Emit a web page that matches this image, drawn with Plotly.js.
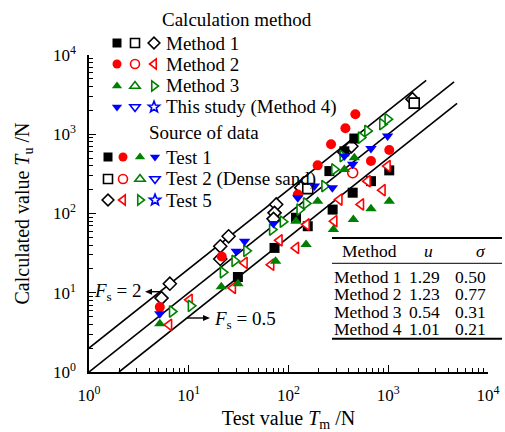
<!DOCTYPE html>
<html><head><meta charset="utf-8">
<script src="https://cdn.plot.ly/plotly-3.0.1.min.js"></script>
<style>html,body{margin:0;padding:0;background:#fff}#chart{width:505px;height:432px}</style>
</head><body><div id="chart"></div>
<script>
// ---------- data ----------
// Test 1 (filled markers)
const t1m1X = [31.1, 72.4, 119, 156, 277, 257, 440, 457, 671, 1023, 363];
const t1m1Y = [15.8, 36.8, 88.3, 69.1, 112, 343, 183, 883, 256, 350, 609];
const t1m2X = [5.13, 21.4, 124, 196, 267, 372, 468, 671, 1023];
const t1m2Y = [6.59, 28.6, 174, 405, 747, 1191, 1791, 459, 632];
const t1m3X = [5.13, 21.2, 31.1, 74.3, 119, 150, 196, 282, 447, 671, 1023, 457, 363];
const t1m3Y = [4.05, 11.9, 13.0, 24.9, 80, 40.5, 143, 62.7, 84, 115, 143, 507, 360];
const t1m4X = [5.13, 29.9, 36.3, 70.8, 124, 182, 275, 440, 671, 985, 363];
const t1m4Y = [5.42, 33.3, 44.6, 74.7, 158, 222, 212, 417, 659, 951, 531];
// Test 2 (Dense sand, open markers)
const t2m1X = [156, 1820];
const t2m1Y = [206, 2467];
const t2m2X = [440];
const t2m2Y = [327];
const t2m3X = [];
const t2m3Y = [];
const t2m4X = [];
const t2m4Y = [];
// Test 5
const t5m1X = [5.33, 6.46, 20.7, 20.7, 25.1, 75.3, 72.4, 70.8, 134, 427, 363, 1750];
const t5m1Y = [8.57, 13.0, 38.6, 26.7, 51.6, 130, 102, 85.7, 212, 705, 592, 2773];
const t5m2X = [6.35, 10.2, 27.7, 36.3, 67.1, 81.3, 119, 152, 288, 324, 533, 621, 877, 985];
const t5m2Y = [3.94, 8.15, 11.5, 23.8, 22.6, 45.9, 36.8, 72.6, 80, 150, 130, 256, 197, 397];
const t5m3X = [6.8, 10.5, 22.0, 28.8, 37.8, 68.5, 87.7, 129, 150, 229, 288, 349, 533, 617, 871, 985];
const t5m3Y = [5.80, 6.84, 18.1, 25.2, 33.8, 62.7, 78.8, 112, 134, 222, 360, 531, 908, 1102, 1339, 1549];
const t5m4X = [];
const t5m4Y = [];

// Safety-factor reference lines  Tu = Fs * Tm
const fsFactors = [2, 1, 0.5];
const fsStartX = [1, 1, 2];
const fsEndX = [2400, 4570, 4900];

// Legend / table text
const methodLabels = ['Method 1', 'Method 2', 'Method 3', 'This study (Method 4)'];
const testLabels = ['Test 1', 'Test 2 (Dense sand)', 'Test 5'];
const tableMethods = ['Method 1', 'Method 2', 'Method 3', 'Method 4'];
const tableU = ['1.29', '1.23', '0.54', '1.01'];
const tableSigma = ['0.50', '0.77', '0.31', '0.21'];
const tickVals = [1, 10, 100, 1000, 10000];
const tickText = ['10<sup>0</sup>', '10<sup>1</sup>', '10<sup>2</sup>', '10<sup>3</sup>', '10<sup>4</sup>'];

// ---------- styles ----------
const RED = '#ff0000', GREEN = '#008000', BLUE = '#0000ff', BLACK = '#000000';
const methodColors = [BLACK, RED, GREEN, BLUE];
const symbols = [
  ['square', 'circle', 'triangle-up', 'triangle-down'],     // Test 1
  ['square', 'circle', 'triangle-up', 'triangle-down'],     // Test 2
  ['diamond', 'triangle-left', 'triangle-right', 'star']    // Test 5
];
const filled = [true, false, false];
const seriesX = [[t1m1X, t1m2X, t1m3X, t1m4X], [t2m1X, t2m2X, t2m3X, t2m4X], [t5m1X, t5m2X, t5m3X, t5m4X]];
const seriesY = [[t1m1Y, t1m2Y, t1m3Y, t1m4Y], [t2m1Y, t2m2Y, t2m3Y, t2m4Y], [t5m1Y, t5m2Y, t5m3Y, t5m4Y]];
const OPEN_W = 1.6;

function markerStyle(t, m, size) {
  const c = methodColors[m];
  return {
    symbol: symbols[t][m], size: size,
    color: filled[t] ? c : '#ffffff',
    line: {color: c, width: filled[t] ? 0 : OPEN_W}
  };
}

// ---------- geometry ----------
const W = 505, H = 432, L = 89, R = 17, T = 55, B = 60;
const PW = W - L - R, PH = H - T - B;
const pxX = v => (v - L) / PW;
const pxY = v => (H - B - v) / PH;
const FONT = 'Liberation Serif, Times New Roman, serif';

const traces = [];
fsFactors.forEach((f, i) => {
  traces.push({
    x: [fsStartX[i], fsEndX[i]], y: [f * fsStartX[i], f * fsEndX[i]],
    mode: 'lines', line: {color: BLACK, width: 1.6}, hoverinfo: 'skip', showlegend: false
  });
});
const order = [[2,0],[1,0],[0,0],[0,1],[1,1],[2,1],[0,2],[1,2],[2,2],[0,3],[1,3],[2,3]];
order.forEach(([t, m]) => {
  if (!seriesX[t][m].length) return;
  traces.push({x: seriesX[t][m], y: seriesY[t][m], mode: 'markers',
    marker: markerStyle(t, m, 10), showlegend: false});
});

// ---------- custom legend (drawn as shapes in paper space) ----------
const shapes = [];
function polyPath(cx, cy, pts) {
  return pts.map((p, i) => (i ? 'L' : 'M') + pxX(cx + p[0]).toFixed(5) + ',' + pxY(cy + p[1]).toFixed(5)).join(' ') + ' Z';
}
function symbolShape(sym, cx, cy, size, fill, color) {
  const r = size / 2, rt = r * 2 / Math.sqrt(3), rd = r * 1.3;
  const base = {xref: 'paper', yref: 'paper', fillcolor: fill ? color : '#ffffff',
    line: {color: color, width: fill ? 0 : OPEN_W}, layer: 'above'};
  if (sym === 'circle') {
    shapes.push(Object.assign({type: 'circle', x0: pxX(cx - r), x1: pxX(cx + r), y0: pxY(cy + r), y1: pxY(cy - r)}, base));
    return;
  }
  let pts;
  if (sym === 'square') pts = [[-r,-r],[r,-r],[r,r],[-r,r]];
  else if (sym === 'diamond') pts = [[rd,0],[0,rd],[-rd,0],[0,-rd]];
  else if (sym === 'triangle-up') pts = [[-rt, r/2],[rt, r/2],[0,-r]];
  else if (sym === 'triangle-down') pts = [[-rt,-r/2],[rt,-r/2],[0,r]];
  else if (sym === 'triangle-left') pts = [[r/2,-rt],[r/2,rt],[-r,0]];
  else if (sym === 'triangle-right') pts = [[-r/2,-rt],[-r/2,rt],[r,0]];
  else if (sym === 'star') {
    pts = [];
    for (let k = 0; k < 10; k++) {
      const a = -Math.PI / 2 + k * Math.PI / 5, rr = (k % 2 ? 0.55 : 1.3) * r;
      pts.push([rr * Math.cos(a), rr * Math.sin(a)]);
    }
  }
  shapes.push(Object.assign({type: 'path', path: polyPath(cx, cy, pts)}, base));
}
const methodRowY = [43, 64, 86, 107];
const methodColX = [117, 135, 154];
const testRowY = [157, 179, 200];
const testColX = [108, 123, 140, 155];
methodRowY.forEach((yy, m) => [0, 1, 2].forEach((t, k) =>
  symbolShape(symbols[t][m], methodColX[k], yy, 9, filled[t], methodColors[m])));
testRowY.forEach((yy, t) => [0, 1, 2, 3].forEach((m, k) =>
  symbolShape(symbols[t][m], testColX[k], yy, 9, filled[t], methodColors[m])));

const ann = [];
function txt(text, x, y, size, anchor) {
  ann.push({text: text, x: pxX(x), y: pxY(y), xref: 'paper', yref: 'paper', showarrow: false,
    xanchor: anchor || 'left', yanchor: 'middle', borderpad: 0,
    font: {family: FONT, size: size, color: BLACK}});
}
txt('Calculation method', 161, 19, 19);
methodLabels.forEach((s, i) => txt(s, 165, methodRowY[i], 19));
txt('Source of data', 148, 132, 19);
testLabels.forEach((s, i) => txt(s, 165, testRowY[i], 19));
// Fs labels and arrows
txt('<i>F</i><sub>s</sub> = 2', 118, 292, 19, 'center');
txt('<i>F</i><sub>s</sub> = 0.5', 245, 320, 19, 'center');
function arrow(x0, x1, y) {
  const dir = Math.sign(x1 - x0), hl = 7, hw = 3;
  shapes.push({type: 'line', xref: 'paper', yref: 'paper', x0: pxX(x0), x1: pxX(x1 - dir * hl), y0: pxY(y), y1: pxY(y), line: {color: BLACK, width: 1.4}});
  shapes.push({type: 'path', xref: 'paper', yref: 'paper', fillcolor: BLACK, line: {color: BLACK, width: 0},
    path: polyPath(x1, y, [[0,0],[-dir*hl,-hw],[-dir*hl,hw]])});
}
arrow(162, 145, 291.7);
arrow(187, 210, 318);
// table
txt('Method', 369, 251.5, 17.5, 'center');
txt('<i>u</i>', 428, 251.5, 17.5, 'center');
txt('<i>σ</i>', 481, 251.5, 17.5, 'center');
const rowY = [276.7, 293.8, 311.5, 328.6];
tableMethods.forEach((s, i) => {
  txt(s, 333, rowY[i], 17.5, 'left');
  txt(tableU[i], 424, rowY[i], 17.5, 'center');
  txt(tableSigma[i], 470, rowY[i], 17.5, 'center');
});
[[238, 2], [263.3, 1], [338.8, 2]].forEach(([yy, w]) => shapes.push(
  {type: 'line', xref: 'paper', yref: 'paper', x0: pxX(332), x1: pxX(502), y0: pxY(yy), y1: pxY(yy), line: {color: BLACK, width: w}}));

const axisCommon = {
  type: 'log', range: [0, 4], tickmode: 'array', tickvals: tickVals, ticktext: tickText,
  ticks: 'inside', ticklen: 7, tickwidth: 1.2, tickcolor: BLACK,
  showline: true, linecolor: BLACK, linewidth: 1.6, showgrid: false, zeroline: false,
  tickfont: {family: FONT, size: 17, color: BLACK},
  minor: {dtick: 'D1', ticks: 'inside', ticklen: 4, tickwidth: 1, tickcolor: BLACK, showgrid: false}
};
const layout = {
  width: W, height: H, margin: {l: L, r: R, t: T, b: B},
  paper_bgcolor: '#fff', plot_bgcolor: '#fff', showlegend: false,
  font: {family: FONT, color: BLACK},
  xaxis: Object.assign({}, axisCommon, {ticklabelstandoff: 7,
    title: {text: 'Test value <i>T</i><sub>m</sub> /N', font: {family: FONT, size: 20}, standoff: 15}}),
  yaxis: Object.assign({}, axisCommon, {ticklabelstandoff: 8,
    title: {text: 'Calculated value <i>T</i><sub>u</sub> /N', font: {family: FONT, size: 20}, standoff: 18}}),
  annotations: ann, shapes: shapes
};
Plotly.newPlot('chart', traces, layout, {staticPlot: true, displayModeBar: false});
</script></body></html>
